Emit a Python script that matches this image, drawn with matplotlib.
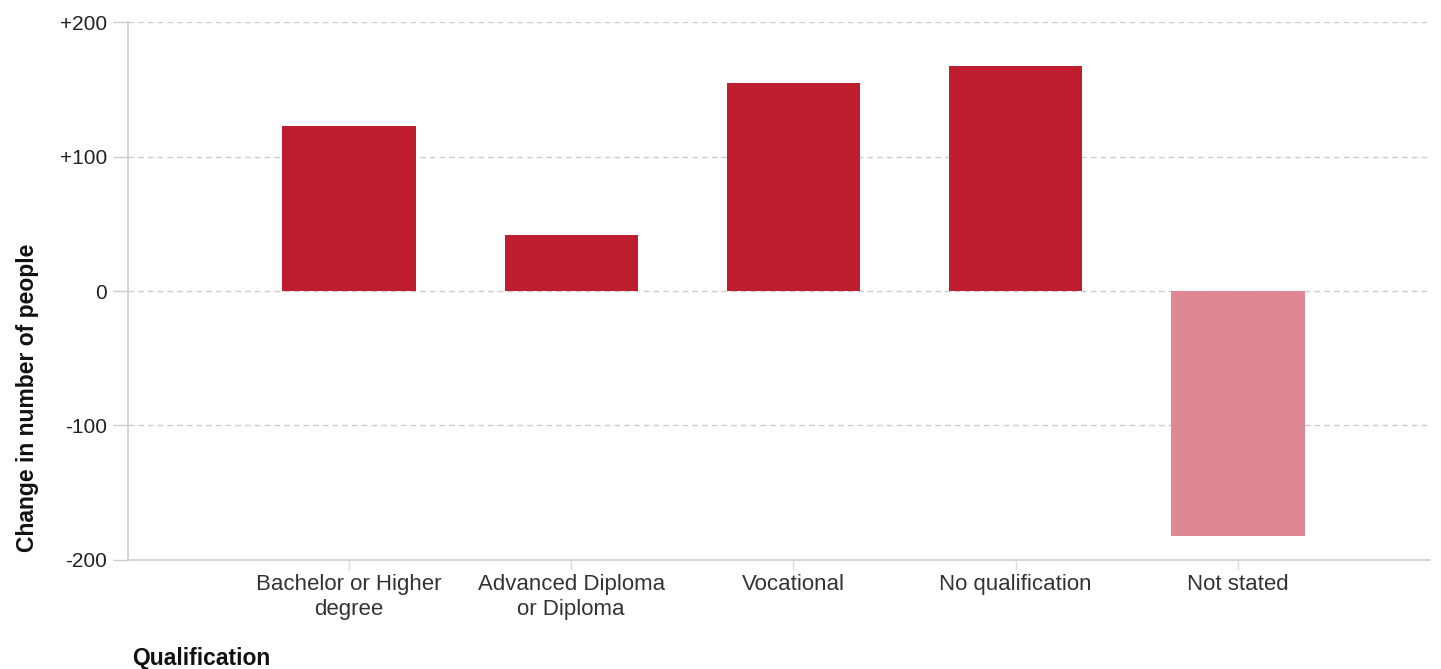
import matplotlib
matplotlib.use("Agg")
import matplotlib.pyplot as plt

plt.rcParams["font.family"] = ["Liberation Sans", "DejaVu Sans"]

categories = ["Bachelor or Higher\ndegree", "Advanced Diploma\nor Diploma",
              "Vocational", "No qualification", "Not stated"]
changes = [123, 42, 155, 167, -182]
bar_colors = ["#BE1E2D", "#BE1E2D", "#BE1E2D", "#BE1E2D", "#DE8896"]
y_ticks = [200, 100, 0, -100, -200]
y_tick_labels = ["+200", "+100", "0", "-100", "-200"]

fig = plt.figure(figsize=(14.41, 6.69), dpi=100)
ax = fig.add_axes([0.0888, 0.163, 0.9036, 0.804])

x = list(range(len(categories)))
ax.bar(x, changes, width=0.6, color=bar_colors, zorder=3)

ax.set_xlim(-0.995, 4.865)
ax.set_ylim(-200, 200)

# dashed gridlines, the -200 one is the bottom spine
for v in y_ticks[:-1]:
    ax.axhline(v, color="#cccccc", linestyle=(0, (4, 3)), linewidth=1, zorder=1)

ax.set_yticks(y_ticks)
ax.set_yticklabels(y_tick_labels, fontsize=15, color="#222222")
ax.tick_params(axis="y", length=11, width=1, color="#cccccc", pad=4)

ax.set_xticks(x)
ax.set_xticklabels(categories, fontsize=16, color="#333333", linespacing=1.25)
ax.tick_params(axis="x", length=7, width=1, color="#dddddd", pad=3)

for side in ["top", "right"]:
    ax.spines[side].set_visible(False)
ax.spines["left"].set_color("#cccccc")
ax.spines["bottom"].set_color("#cccccc")
ax.spines["left"].set_linewidth(1.2)
ax.spines["bottom"].set_linewidth(1.2)

fig.text(0.019, 0.405, "Change in number of people", rotation=90,
         fontsize=16.5, fontweight="bold", ha="center", va="center", color="#111111")
fig.text(0.092, 0.016, "Qualification", fontsize=16.5, fontweight="bold",
         ha="left", va="center", color="#111111")

fig.savefig("out.png", dpi=100)
